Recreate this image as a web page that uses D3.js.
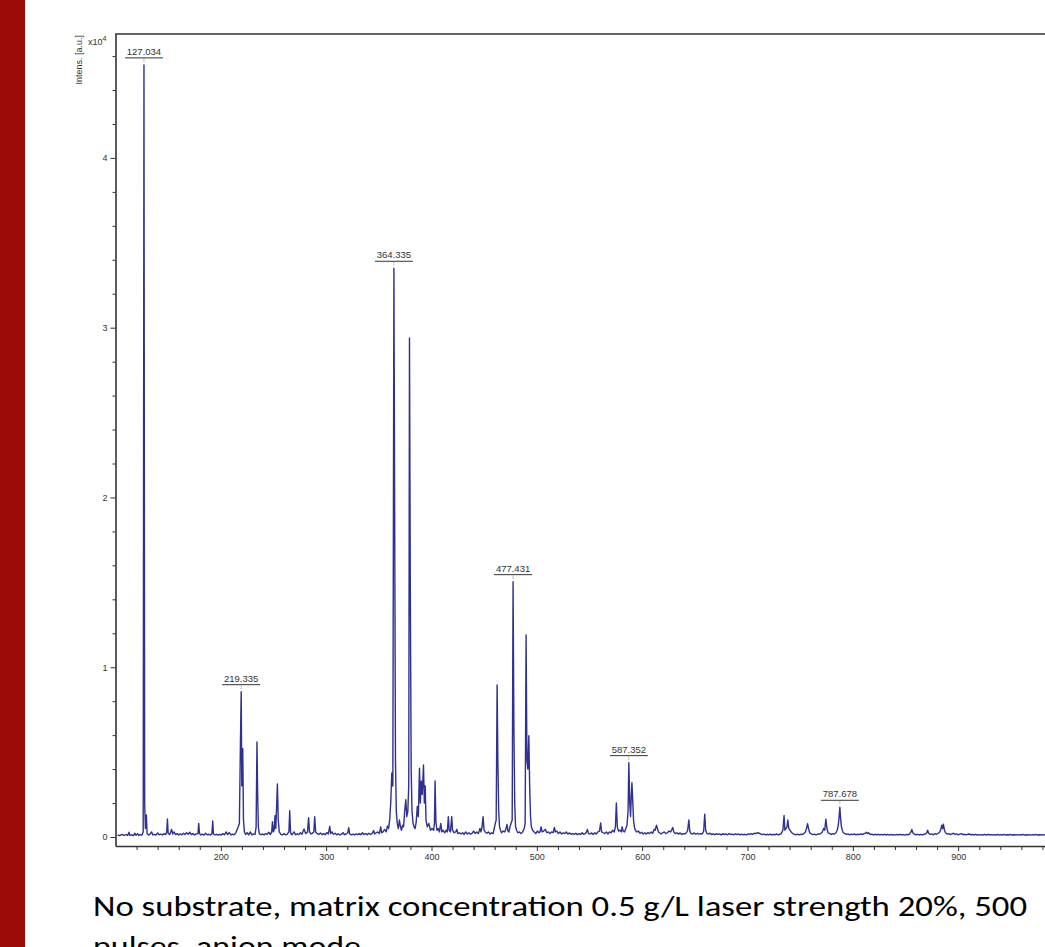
<!DOCTYPE html>
<html>
<head>
<meta charset="utf-8">
<script src="https://cdn.jsdelivr.net/npm/d3@7"></script>
<style>
body { margin: 0; background: #fff; overflow: hidden; }
svg { display: block; }
</style>
</head>
<body>
<script>
// spectrum: [m/z, intensity x10^4]
var spectrum = [
  [102,0.012],[104,0.008],[106,0.015],[108,0.01],[110,0.014],[111.5,0.009],[112.8,0.028],[113.6,0.01],[115,0.013],[117,0.009],
  [118.5,0.022],[119.5,0.01],[121,0.02],[122,0.009],[123.5,0.014],[125,0.011],[126.3,0.03],
  [127.03,4.548],[127.7,0.2],[128.4,0.05],[129.3,0.13],[130,0.02],
  [131.5,0.012],[133,0.018],[134.2,0.03],[135.5,0.012],[137,0.016],[138.5,0.011],[140,0.024],[141.5,0.013],[143,0.017],[144.5,0.012],
  [146,0.02],[147.5,0.014],[148.6,0.03],[149.3,0.106],[150,0.02],[151.5,0.015],[153.3,0.045],[154.2,0.018],[155.5,0.03],[157,0.014],
  [158.5,0.02],[160,0.012],[161.5,0.018],[163,0.013],[164.5,0.022],[166,0.015],[167.5,0.025],[169,0.016],[170.5,0.028],[172,0.014],
  [173.5,0.02],[175,0.012],[176.5,0.018],[178.3,0.02],[179,0.08],[179.8,0.02],[181,0.012],[182.5,0.017],[184,0.011],[185.5,0.022],
  [187,0.013],[188.5,0.016],[190,0.012],[191.5,0.02],[192.3,0.094],[193,0.018],[194.5,0.012],[196,0.016],[197.5,0.011],[199,0.015],
  [200.5,0.012],[202,0.02],[203.5,0.013],[205,0.03],[206.5,0.014],[208,0.026],[209.5,0.012],[211,0.017],[212.5,0.013],[214,0.022],
  [215.2,0.04],[216.5,0.06],[217.6,0.08],[218.6,0.55],[219.33,0.856],[219.9,0.3],[220.8,0.52],[221.5,0.1],[222.4,0.03],[223.5,0.015],
  [225,0.025],[226.5,0.013],[228,0.03],[229.5,0.012],[231,0.018],[232.5,0.015],[233.5,0.06],[234.3,0.56],[234.9,0.28],[235.6,0.06],
  [236.5,0.02],[238,0.013],[239.5,0.018],[241,0.012],[242.5,0.02],[244,0.015],[245.5,0.028],[247,0.014],[248.3,0.03],[249,0.09],
  [249.8,0.03],[250.6,0.04],[251.4,0.125],[252.2,0.05],[253.7,0.312],[254.5,0.1],[255.5,0.03],[257,0.016],[258.5,0.012],[260,0.02],
  [261.5,0.013],[263,0.017],[264.6,0.03],[265.4,0.155],[266.2,0.025],[267.5,0.013],[269.5,0.03],[271,0.013],[272.5,0.019],[274,0.014],
  [275.5,0.025],[277,0.016],[279,0.047],[280.5,0.02],[282.3,0.03],[283.3,0.114],[284.2,0.03],[285.5,0.018],[287,0.022],[288.3,0.03],
  [289.1,0.12],[290,0.03],[291.5,0.02],[293,0.015],[294.5,0.024],[296,0.014],[297.5,0.02],[299,0.013],[300.5,0.026],[302,0.017],
  [303.4,0.063],[304.3,0.02],[305.5,0.03],[307,0.016],[308.5,0.022],[310,0.013],[311.5,0.019],[313,0.012],[314.5,0.017],[316,0.025],
  [317.5,0.013],[319,0.018],[320.5,0.025],[321.4,0.055],[322.3,0.018],[324,0.013],[325.5,0.017],[327,0.012],[328.5,0.018],[330,0.014],
  [331.5,0.02],[333,0.013],[334.5,0.025],[336,0.015],[337.5,0.02],[339,0.013],[340.5,0.022],[342,0.015],[343.5,0.02],[345,0.038],
  [346,0.018],[347.5,0.025],[349,0.03],[350.5,0.02],[351.8,0.06],[352.7,0.025],[354,0.03],[355.5,0.045],[357,0.03],[358.2,0.065],
  [359.3,0.05],[360.4,0.11],[361.3,0.2],[362.3,0.377],[363.3,0.3],[364.33,3.35],[365.1,1.77],[365.8,0.45],[366.6,0.15],[367.5,0.08],
  [368.5,0.05],[369.5,0.1],[370.5,0.06],[371.5,0.04],[372.5,0.07],[373.5,0.06],[374.5,0.15],[375.6,0.22],[376.5,0.12],[377.5,0.15],
  [378.4,0.3],[379.1,2.94],[379.9,1.455],[380.7,0.4],[381.5,0.15],[382.5,0.08],[383.5,0.06],[384.5,0.05],[385.5,0.09],[386.5,0.18],
  [387.5,0.12],[388.6,0.405],[389.4,0.2],[390.3,0.33],[391.2,0.25],[392.4,0.424],[393.2,0.2],[394,0.3],[394.8,0.1],[396,0.06],
  [397.5,0.08],[399,0.04],[400.5,0.05],[402,0.04],[402.8,0.08],[403.4,0.33],[404.2,0.09],[405.2,0.04],[406.5,0.05],[407.5,0.03],
  [408.8,0.08],[409.8,0.03],[411,0.04],[412.5,0.025],[414,0.04],[415,0.03],[416,0.12],[416.8,0.04],[418,0.03],[419.2,0.12],
  [420,0.04],[421.5,0.025],[423,0.03],[424,0.045],[425,0.02],[426.5,0.025],[428,0.018],[429.5,0.025],[431,0.015],[432.5,0.03],
  [434,0.018],[435.5,0.025],[437,0.016],[438.5,0.022],[440,0.035],[441.5,0.02],[443,0.03],[444.5,0.02],[446,0.05],[447,0.03],
  [448,0.06],[449,0.12],[449.9,0.04],[451,0.03],[452.5,0.022],[454,0.03],[455.5,0.018],[457,0.025],[458.5,0.02],[459.5,0.05],
  [460.6,0.08],[461.4,0.1],[462.3,0.895],[463,0.45],[463.8,0.15],[464.6,0.06],[465.5,0.04],[466.5,0.025],[468,0.035],[469.5,0.03],
  [470.5,0.045],[471.7,0.074],[472.6,0.035],[473.5,0.03],[474.5,0.06],[475.5,0.08],[476.6,0.1],[477.43,1.504],[478.2,0.66],[479,0.2],
  [479.8,0.06],[480.8,0.04],[482,0.025],[483.5,0.03],[485,0.02],[486.5,0.03],[488,0.05],[488.9,0.08],[489.8,1.19],[490.6,0.45],
  [491.5,0.4],[492.4,0.597],[493.2,0.3],[494,0.12],[494.8,0.06],[496,0.04],[497.5,0.03],[499,0.02],[500.5,0.035],[502,0.025],
  [503,0.03],[504.1,0.06],[505,0.03],[506.5,0.035],[508,0.045],[509.5,0.025],[511,0.03],[512.5,0.02],[514,0.03],[515.5,0.025],
  [516.7,0.056],[517.6,0.03],[519,0.035],[520.5,0.02],[522,0.03],[523.5,0.018],[525,0.025],[526.5,0.02],[528,0.03],[529.5,0.017],
  [531,0.024],[532.5,0.016],[534,0.02],[535.5,0.015],[537,0.022],[538.5,0.014],[540,0.02],[541.5,0.015],[543,0.025],[544.5,0.016],
  [546,0.02],[547.2,0.03],[548,0.045],[549,0.02],[550.5,0.018],[552,0.024],[553.5,0.015],[555,0.025],[556.5,0.018],[558,0.03],
  [559.5,0.035],[560.6,0.083],[561.5,0.03],[563,0.025],[564.5,0.02],[566,0.03],[567.5,0.018],[569,0.03],[570.5,0.025],[572,0.04],
  [573.5,0.03],[574.6,0.06],[575.5,0.2],[576.4,0.06],[577.5,0.035],[579,0.04],[580.2,0.03],[581,0.06],[582,0.035],[583.2,0.03],
  [584.5,0.05],[585.6,0.07],[586.6,0.15],[587.35,0.438],[588.2,0.2],[589,0.12],[589.7,0.25],[590.3,0.32],[591,0.22],[591.8,0.1],
  [592.6,0.06],[593.5,0.04],[595,0.03],[596.5,0.035],[598,0.022],[599.5,0.028],[601,0.018],[602.5,0.025],[604,0.017],[605.5,0.026],
  [607,0.02],[608.5,0.03],[610,0.022],[611.3,0.045],[612.3,0.04],[613.6,0.07],[614.5,0.05],[615.4,0.03],[616.5,0.025],[618,0.018],
  [619.5,0.025],[621,0.03],[622.5,0.02],[624,0.025],[625.5,0.035],[627,0.03],[628.3,0.045],[629,0.056],[630,0.03],[631.5,0.02],
  [633,0.025],[634.5,0.017],[636,0.024],[637.5,0.015],[639,0.02],[640.5,0.018],[642,0.025],[643.2,0.04],[644.3,0.1],[645.2,0.035],
  [646.5,0.02],[648,0.018],[649.5,0.024],[651,0.016],[652.5,0.022],[654,0.017],[655.5,0.02],[657,0.018],[658.4,0.035],[659.4,0.134],
  [660.3,0.04],[661.5,0.02],[663,0.018],[664.5,0.022],[666,0.014],[667.5,0.019],[669,0.013],[670.5,0.02],[672,0.015],[673.5,0.018],
  [675,0.012],[676.5,0.02],[678,0.014],[679.5,0.018],[681,0.013],[682.5,0.02],[684,0.015],[685.5,0.017],[687,0.013],[688.5,0.019],
  [690,0.014],[691.5,0.018],[693,0.012],[694.5,0.017],[696,0.013],[697.5,0.016],[699,0.012],[700.5,0.018],[702,0.015],[703.5,0.02],
  [705,0.016],[706.5,0.022],[708,0.02],[709.5,0.026],[711,0.022],[712.5,0.018],[714,0.014],[715.5,0.017],[717,0.012],[718.5,0.016],
  [720,0.013],[721.5,0.017],[723,0.012],[724.5,0.015],[726,0.013],[727.5,0.018],[729,0.013],[730.5,0.016],[732,0.02],[733.6,0.04],
  [734.7,0.127],[735.5,0.04],[736.5,0.05],[737.5,0.06],[738.3,0.1],[739.2,0.05],[740.3,0.04],[741.5,0.03],[743,0.02],[744.5,0.016],
  [746,0.013],[747.5,0.017],[749,0.012],[750.5,0.016],[752,0.015],[753.5,0.02],[755,0.03],[756,0.05],[757,0.078],[758,0.05],
  [759,0.025],[760.5,0.018],[762,0.014],[763.5,0.017],[765,0.013],[766.5,0.016],[768,0.018],[769.5,0.02],[771,0.03],[772.3,0.05],
  [773.3,0.04],[774.4,0.105],[775.4,0.05],[776.5,0.025],[778,0.02],[779.5,0.015],[781,0.02],[782.5,0.018],[784,0.025],[785.2,0.04],
  [786.2,0.07],[787,0.12],[787.68,0.175],[788.4,0.11],[789.2,0.06],[790,0.04],[791,0.025],[792.5,0.02],[794,0.015],[795.5,0.018],
  [797,0.013],[798.5,0.017],[800,0.014],[801.5,0.018],[803,0.013],[804.5,0.016],[806,0.014],[807.5,0.019],[809,0.014],[810.5,0.02],
  [812,0.022],[813,0.028],[814,0.02],[815,0.025],[816.5,0.015],[818,0.017],[819.5,0.012],[821,0.016],[822.5,0.013],[824,0.016],
  [825.5,0.012],[827,0.015],[828.5,0.012],[830,0.016],[831.5,0.012],[833,0.015],[834.5,0.011],[836,0.015],[837.5,0.012],[839,0.014],
  [840.5,0.011],[842,0.015],[843.5,0.012],[845,0.016],[846.5,0.012],[848,0.014],[849.5,0.011],[851,0.015],[852.5,0.013],[854,0.018],
  [855.2,0.03],[856,0.045],[857,0.025],[858.5,0.016],[860,0.013],[861.5,0.016],[863,0.012],[864.5,0.015],[866,0.012],[867.5,0.016],
  [869,0.018],[870.2,0.025],[871,0.04],[872,0.022],[873.5,0.015],[875,0.018],[876.5,0.013],[878,0.02],[879.5,0.016],[881,0.022],
  [882.5,0.03],[883.5,0.045],[884.5,0.07],[885.3,0.05],[886,0.075],[887,0.04],[888,0.025],[889.5,0.018],[891,0.02],[892.5,0.014],
  [894,0.018],[895.5,0.022],[897,0.015],[898.5,0.018],[900,0.013],[901.5,0.017],[903,0.02],[904.5,0.014],[906,0.016],[907.5,0.012],
  [909,0.016],[910.5,0.018],[912,0.013],[913.5,0.015],[915,0.011],[916.5,0.015],[918,0.012],[919.5,0.014],[921,0.011],[922.5,0.014],
  [924,0.012],[925.5,0.015],[927,0.011],[928.5,0.016],[930,0.012],[931.5,0.014],[933,0.011],[934.5,0.014],[936,0.012],[937.5,0.015],
  [939,0.011],[940.5,0.014],[942,0.012],[943.5,0.015],[945,0.011],[946.5,0.013],[948,0.012],[949.5,0.015],[951,0.011],[952.5,0.013],
  [954,0.012],[955.5,0.014],[957,0.011],[958.5,0.014],[960,0.012],[961.5,0.015],[963,0.011],[964.5,0.013],[966,0.012],[967.5,0.014],
  [969,0.011],[970.5,0.014],[972,0.012],[973.5,0.015],[975,0.011],[976.5,0.013],[978,0.012],[979.5,0.014],[981,0.011],[982.5,0.013],
  [984,0.012],[985.5,0.014],[987,0.012],[990,0.013]
];

// labelled peaks
var peakMz = [127.03, 219.33, 364.33, 477.43, 587.35, 787.68];
var peakIntensity = [4.548, 0.856, 3.35, 1.504, 0.438, 0.175];
var peakText = ['127.034', '219.335', '364.335', '477.431', '587.352', '787.678'];

var xMajorTicks = [200, 300, 400, 500, 600, 700, 800, 900];
var xMinorTicks = [120, 140, 160, 180, 220, 240, 260, 280, 320, 340, 360, 380, 420, 440, 460, 480,
  520, 540, 560, 580, 620, 640, 660, 680, 720, 740, 760, 780, 820, 840, 860, 880, 920, 940, 960, 980];
var yMajorTicks = [0, 1, 2, 3, 4];
var yMinorTicks = [0.2, 0.4, 0.6, 0.8, 1.2, 1.4, 1.6, 1.8, 2.2, 2.4, 2.6, 2.8, 3.2, 3.4, 3.6, 3.8, 4.2, 4.4, 4.6];

var captionLines = ['No substrate, matrix concentration 0.5 g/L laser strength 20%, 500', 'pulses, anion mode'];

var width = 1045, height = 947;
var axisFont = '"Liberation Sans", Arial, sans-serif';
var captionFont = 'Carlito, Calibri, "Open Sans", sans-serif';

var svg = d3.select('body').append('svg').attr('width', width).attr('height', height);

// red side bar
svg.append('rect').attr('x', 0).attr('y', 0).attr('width', 25).attr('height', height).attr('fill', '#9c0b07');

var x = d3.scaleLinear().domain([100, 1000]).range([115.5, 1063.5]);
var y = d3.scaleLinear().domain([-0.053, 4.73]).range([846, 34]);

svg.append('clipPath').attr('id', 'plotclip')
  .append('rect').attr('x', 116).attr('y', 34).attr('width', 1000).attr('height', 812);

// spectrum
var line = d3.line().x(function (d) { return x(d[0]); }).y(function (d) { return y(d[1]); });
svg.append('path')
  .datum(spectrum)
  .attr('clip-path', 'url(#plotclip)')
  .attr('d', line)
  .attr('fill', 'none')
  .attr('stroke', '#2e3192')
  .attr('stroke-width', 1.4)
  .attr('stroke-linejoin', 'round');

function styleAxis(g) {
  g.attr('font-family', axisFont).attr('font-size', 9);
  g.selectAll('path.domain').attr('stroke', '#333').attr('stroke-width', 1.6);
  g.selectAll('.tick line').attr('stroke', '#333').attr('stroke-width', 1);
  g.selectAll('.tick text').attr('fill', '#333');
}

// x axis
var gx = svg.append('g').attr('transform', 'translate(0,846)')
  .call(d3.axisBottom(x).tickValues(xMajorTicks).tickSize(5).tickSizeOuter(0).tickPadding(3).tickFormat(d3.format('d')));
styleAxis(gx);
var gxm = svg.append('g').attr('transform', 'translate(0,846)')
  .call(d3.axisBottom(x).tickValues(xMinorTicks).tickSize(4).tickFormat(''));
gxm.select('.domain').remove();
styleAxis(gxm);

// y axis
var gy = svg.append('g').attr('transform', 'translate(115.5,0)')
  .call(d3.axisLeft(y).tickValues(yMajorTicks).tickSize(5).tickSizeOuter(0).tickPadding(3).tickFormat(d3.format('d')));
styleAxis(gy);
var gym = svg.append('g').attr('transform', 'translate(115.5,0)')
  .call(d3.axisLeft(y).tickValues(yMinorTicks).tickSize(3).tickFormat(''));
gym.select('.domain').remove();
styleAxis(gym);

// top frame line
svg.append('line').attr('x1', 115).attr('x2', width).attr('y1', 34).attr('y2', 34)
  .attr('stroke', '#333').attr('stroke-width', 1.6);

// axis title and exponent
svg.append('text')
  .attr('transform', 'translate(82,35) rotate(-90)')
  .attr('text-anchor', 'end')
  .attr('font-family', axisFont).attr('font-size', 9).attr('fill', '#333')
  .text('Intens. [a.u.]');
var expo = svg.append('text').attr('x', 88).attr('y', 45)
  .attr('font-family', axisFont).attr('font-size', 9).attr('fill', '#333');
expo.append('tspan').text('x10');
expo.append('tspan').attr('dy', -4).attr('font-size', 7).text('4');

// peak labels
var labels = svg.selectAll('g.peak').data(peakMz).enter().append('g').attr('class', 'peak');
labels.append('text')
  .attr('x', function (d) { return x(d); })
  .attr('y', function (d, i) { return y(peakIntensity[i]) - 10; })
  .attr('text-anchor', 'middle')
  .attr('font-family', axisFont).attr('font-size', 9.5).attr('fill', '#333')
  .text(function (d, i) { return peakText[i]; });
labels.append('line')
  .attr('x1', function (d) { return x(d) - 19; })
  .attr('x2', function (d) { return x(d) + 19; })
  .attr('y1', function (d, i) { return y(peakIntensity[i]) - 7; })
  .attr('y2', function (d, i) { return y(peakIntensity[i]) - 7; })
  .attr('stroke', '#333').attr('stroke-width', 1);
labels.append('line')
  .attr('x1', function (d) { return x(d); })
  .attr('x2', function (d) { return x(d); })
  .attr('y1', function (d, i) { return y(peakIntensity[i]) - 6; })
  .attr('y2', function (d, i) { return y(peakIntensity[i]) - 2; })
  .attr('stroke', '#888').attr('stroke-width', 1).attr('stroke-dasharray', '1,1');

// caption
svg.append('text').attr('x', 93).attr('y', 916)
  .attr('font-family', captionFont).attr('font-size', 28).attr('fill', '#000')
  .attr('textLength', 934).attr('lengthAdjust', 'spacingAndGlyphs')
  .text(captionLines[0]);
svg.append('text').attr('x', 93).attr('y', 956)
  .attr('font-family', captionFont).attr('font-size', 28).attr('fill', '#000')
  .attr('textLength', 268).attr('lengthAdjust', 'spacingAndGlyphs')
  .text(captionLines[1]);
</script>
</body>
</html>
